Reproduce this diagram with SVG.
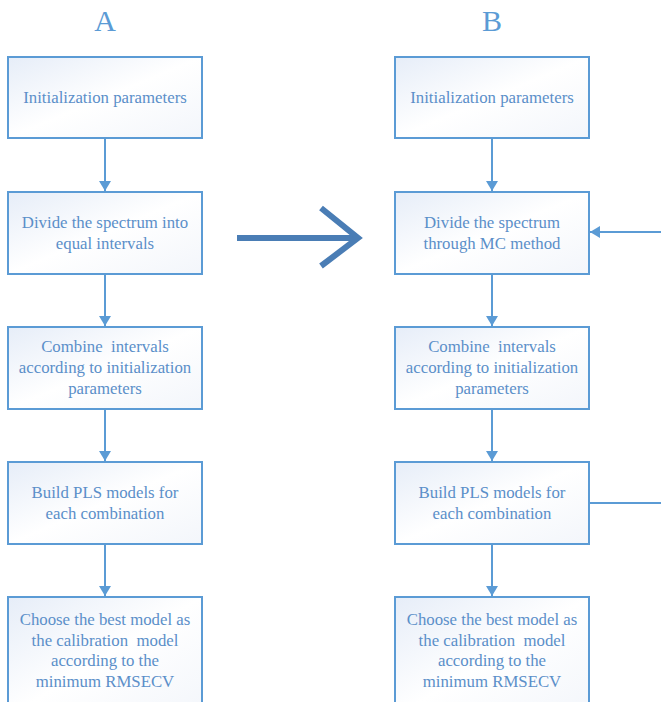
<svg xmlns="http://www.w3.org/2000/svg" width="661" height="702" viewBox="0 0 661 702">
<defs>
<linearGradient id="g" x1="0" y1="0" x2="1" y2="1">
<stop offset="0" stop-color="#e6edf8"/>
<stop offset="0.5" stop-color="#ffffff"/>
<stop offset="1" stop-color="#f3f6fb"/>
</linearGradient>
<marker id="ah" markerWidth="12" markerHeight="12" refX="10" refY="6" orient="auto" markerUnits="userSpaceOnUse">
<path d="M0,0 L10,6 L0,12 Z" fill="#5b9bd5"/>
</marker>
<style>
.box{fill:url(#g);stroke:#5b9bd5;stroke-width:2}
.t{font-family:"Liberation Serif","DejaVu Serif",serif;font-size:16.8px;fill:#5b8fc9;text-anchor:middle;white-space:pre}
.h{font-family:"Liberation Serif","DejaVu Serif",serif;font-size:30px;fill:#5b9bd5;text-anchor:middle}
.c{stroke:#5b9bd5;stroke-width:2;fill:none}
</style>
</defs>
<rect width="661" height="702" fill="#ffffff"/>
<text class="h" x="105" y="31">A</text>
<text class="h" x="492" y="31">B</text>

<g id="connectors">
<line class="c" x1="105" y1="138" x2="105" y2="191" marker-end="url(#ah)"/>
<line class="c" x1="105" y1="274" x2="105" y2="326" marker-end="url(#ah)"/>
<line class="c" x1="105" y1="409" x2="105" y2="461" marker-end="url(#ah)"/>
<line class="c" x1="105" y1="544" x2="105" y2="596" marker-end="url(#ah)"/>
<line class="c" x1="492" y1="138" x2="492" y2="191" marker-end="url(#ah)"/>
<line class="c" x1="492" y1="274" x2="492" y2="326" marker-end="url(#ah)"/>
<line class="c" x1="492" y1="409" x2="492" y2="461" marker-end="url(#ah)"/>
<line class="c" x1="492" y1="544" x2="492" y2="596" marker-end="url(#ah)"/>
<line class="c" x1="661" y1="232" x2="590" y2="232" marker-end="url(#ah)"/>
<line class="c" x1="589" y1="503" x2="661" y2="503"/>
<g stroke="#4a7db5" stroke-width="6" stroke-linecap="butt" fill="none">
<line x1="237" y1="238" x2="356" y2="238"/>
<polyline points="321,208 358,238 321,266"/>
</g>
</g>

<g id="a1"><rect class="box" x="8" y="57" width="194" height="81"/><text class="t" x="105" y="103">Initialization parameters</text></g>
<g id="a2"><rect class="box" x="8" y="192" width="194" height="82"/><text class="t" x="105" y="228">Divide the spectrum into</text><text class="t" x="105" y="249">equal intervals</text></g>
<g id="a3"><rect class="box" x="8" y="327" width="194" height="82"/><text class="t" x="105" y="352" xml:space="preserve">Combine  intervals</text><text class="t" x="105" y="373">according to initialization</text><text class="t" x="105" y="394">parameters</text></g>
<g id="a4"><rect class="box" x="8" y="462" width="194" height="82"/><text class="t" x="105" y="498">Build PLS models for</text><text class="t" x="105" y="519">each combination</text></g>
<g id="a5"><rect class="box" x="8" y="597" width="194" height="120"/><text class="t" x="105" y="625">Choose the best model as</text><text class="t" x="105" y="646" xml:space="preserve">the calibration  model</text><text class="t" x="105" y="666">according to the</text><text class="t" x="105" y="687">minimum RMSECV</text></g>

<g id="b1"><rect class="box" x="395" y="57" width="194" height="81"/><text class="t" x="492" y="103">Initialization parameters</text></g>
<g id="b2"><rect class="box" x="395" y="192" width="194" height="82"/><text class="t" x="492" y="228">Divide the spectrum</text><text class="t" x="492" y="249">through MC method</text></g>
<g id="b3"><rect class="box" x="395" y="327" width="194" height="82"/><text class="t" x="492" y="352" xml:space="preserve">Combine  intervals</text><text class="t" x="492" y="373">according to initialization</text><text class="t" x="492" y="394">parameters</text></g>
<g id="b4"><rect class="box" x="395" y="462" width="194" height="82"/><text class="t" x="492" y="498">Build PLS models for</text><text class="t" x="492" y="519">each combination</text></g>
<g id="b5"><rect class="box" x="395" y="597" width="194" height="120"/><text class="t" x="492" y="625">Choose the best model as</text><text class="t" x="492" y="646" xml:space="preserve">the calibration  model</text><text class="t" x="492" y="666">according to the</text><text class="t" x="492" y="687">minimum RMSECV</text></g>
</svg>
